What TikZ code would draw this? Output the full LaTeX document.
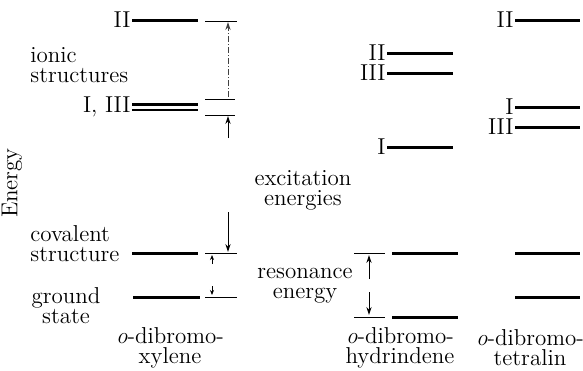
\documentclass[tikz,border=0pt]{standalone}
\usetikzlibrary{arrows.meta}
\begin{document}
\begin{tikzpicture}[x=0.5pt,y=-0.5pt,
  lvl/.style={line width=1.5pt},
  thinlvl/.style={line width=0.5pt},
  lbl/.style={font=\fontsize{11.5}{10}\selectfont, inner sep=0.5pt},
  txt/.style={font=\fontsize{11.5}{10}\selectfont, inner sep=0pt},
  arr/.style={-{Stealth[length=4pt,width=2.6pt]}, line width=0.5pt},
  sarr/.style={-{Stealth[length=2.5pt,width=2pt]}, line width=0.5pt}]
\useasboundingbox (0,0) rectangle (583,370);

% axis label
\node[txt, rotate=90] (energy) at (12,183) {Energy};

% side labels
\node[txt, align=left, anchor=west] (ionic) at (30,65) {ionic\\structures};
\node[txt, align=left, anchor=west] (coval) at (30,244) {covalent\\structure};
\node[txt, align=center] (ground) at (66,306) {ground\\state};
\node[txt, align=center] (excit) at (303,190) {excitation\\energies};
\node[txt, align=center] (reson) at (305,286) {resonance\\energy};

% column titles
\node[txt, align=center] (t1) at (170,348) {\textit{o}-dibromo-\\xylene};
\node[txt, align=center] (t2) at (400,348) {\textit{o}-dibromo-\\hydrindene};
\node[txt, align=center] (t3) at (530,348) {\textit{o}-dibromo-\\tetralin};

% ---- xylene levels
\node[lbl, anchor=east] (xII) at (132,20) {II};
\draw[lvl] (xII.east) -- ++(66,0) coordinate (xIIe);
\node[lbl, anchor=east] (xIIII) at (132,107) {I, III};
\draw[line width=1.2pt] (132,104.5) -- (198,104.5);
\draw[line width=1.2pt] (132,110) -- (198,110);
\coordinate (xcov) at (132,253);
\draw[lvl] (xcov) -- ++(66,0);
\coordinate (xgr) at (133,297);
\draw[lvl] (xgr) -- ++(67,0);

% xylene thin reference lines
\draw[thinlvl] (205,21) coordinate (a1) -- (237,21) coordinate (a1e);
\draw[thinlvl] (205,99) coordinate (a2) -- (235,99);
\draw[thinlvl] (205,115) coordinate (a3) -- (235,115);
\draw[thinlvl] (205,253) coordinate (a4) -- (237,253);
\draw[thinlvl] (205,297) coordinate (a5) -- (237,297);

% xylene arrows
\coordinate (p1s) at (228,97);  \coordinate (p1e) at (228,22);
\draw[arr, densely dashdotted, black!75] (p1s) -- (p1e);
\coordinate (p2s) at (228,138); \coordinate (p2e) at (228,116);
\draw[arr] (p2s) -- (p2e);
\coordinate (p3s) at (228,212); \coordinate (p3e) at (228,252);
\draw[arr] (p3s) -- (p3e);
\coordinate (p4s) at (212,264); \coordinate (p4e) at (212,255);
\draw[sarr] (p4s) -- (p4e);
\coordinate (p5s) at (212,286); \coordinate (p5e) at (212,295);
\draw[sarr] (p5s) -- (p5e);

% ---- hydrindene levels
\node[lbl, anchor=east] (hII) at (387,53) {II};
\draw[lvl] (hII.east) -- (453,53);
\node[lbl, anchor=east] (hIII) at (387,73) {III};
\draw[lvl] (hIII.east) -- (453,73);
\node[lbl, anchor=east] (hI) at (387,147) {I};
\draw[lvl] (hI.east) -- (453,147);
\coordinate (hcov) at (392,253);
\draw[lvl] (hcov) -- (458,253);
\coordinate (hgr) at (392,317);
\draw[lvl] (hgr) -- (458,317);
\draw[thinlvl] (354,253) -- (385,253);
\draw[thinlvl] (354,317) -- (385,317);
\coordinate (q1s) at (369,279); \coordinate (q1e) at (369,255);
\draw[arr] (q1s) -- (q1e);
\coordinate (q2s) at (369,292); \coordinate (q2e) at (369,315);
\draw[arr] (q2s) -- (q2e);

% ---- tetralin levels
\node[lbl, anchor=east] (tII) at (515,20) {II};
\draw[lvl] (tII.east) -- (580,20);
\node[lbl, anchor=east] (tI) at (515,107) {I};
\draw[lvl] (tI.east) -- (580,107);
\node[lbl, anchor=east] (tIII) at (515,127) {III};
\draw[lvl] (tIII.east) -- (580,127);
\coordinate (tcov) at (515,253);
\draw[lvl] (tcov) -- (580,253);
\coordinate (tgr) at (515,297);
\draw[lvl] (tgr) -- (580,297);
\end{tikzpicture}
\end{document}
